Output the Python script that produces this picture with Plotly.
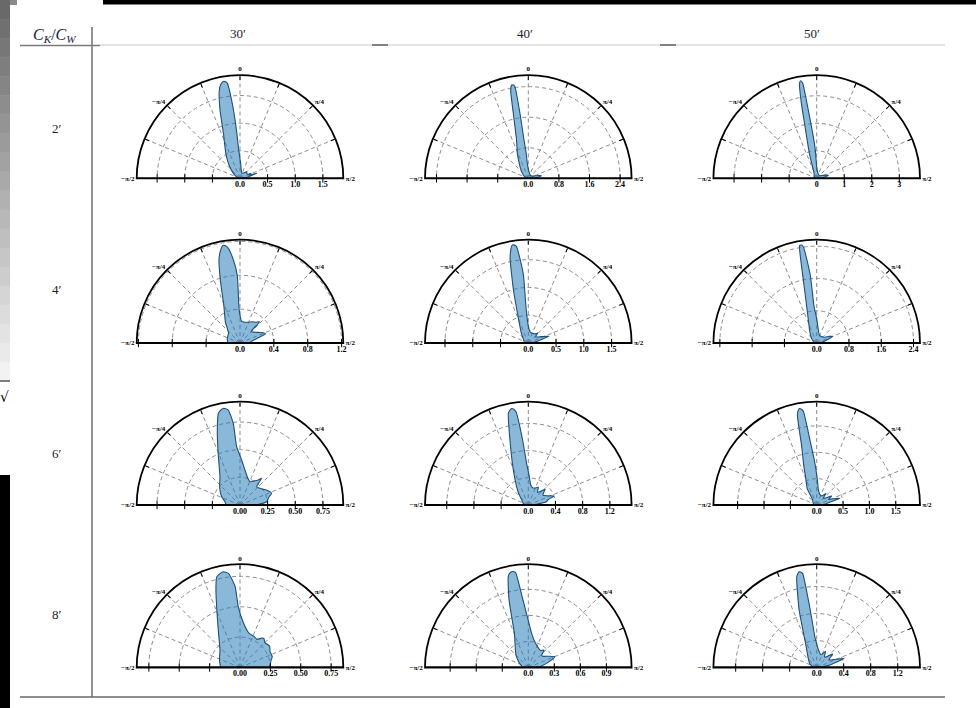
import plotly.graph_objects as go

W, H = 976, 708

# ---------------- data ----------------
COL_LABELS = ["30′", "40′", "50′"]
ROW_LABELS = ["2′", "4′", "6′", "8′"]
ANGLE_TICKS = [-90, -67.5, -45, -22.5, 0, 22.5, 45, 67.5, 90]
ANGLE_TEXT = ["−π/2", "", "−π/4", "", "0", "", "π/4", "", "π/2"]

# row 2'
THETA_30_2 = [-90, -70, -53, -40, -31.6, -25, -20.3, -16.3, -13.2, -11.5, -9.8, -8.5, -7.6, -6.1, -4.4, -3, 0, 2.5, 10, 20, 35, 45, 60, 66, 70, 73, 76, 80, 85, 90]
R_30_2 = [0.02, 0.05, 0.15, 0.30, 0.47, 0.65, 0.86, 1.29, 1.64, 1.74, 1.78, 1.77, 1.74, 1.42, 0.94, 0.58, 0.35, 0.27, 0.14, 0.10, 0.12, 0.17, 0.15, 0.22, 0.17, 0.32, 0.20, 0.15, 0.08, 0.03]
THETA_40_2 = [-90, -70, -56, -40, -31, -24, -17, -13, -11.3, -10.1, -9, -8.3, -7.3, -6.4, -5, -3.8, 0, 10, 18, 30, 45, 60, 70, 75, 78, 82, 86, 90]
R_40_2 = [0.03, 0.08, 0.16, 0.30, 0.46, 0.70, 1.05, 1.74, 2.35, 2.48, 2.47, 2.42, 1.71, 1.00, 0.70, 0.39, 0.25, 0.15, 0.13, 0.10, 0.10, 0.12, 0.20, 0.30, 0.35, 0.30, 0.20, 0.05]
THETA_50_2 = [-90, -60, -28, -16.3, -12.7, -11.5, -10.3, -9.3, -8.4, -7, -5.1, -3, 0, 10, 30, 50, 65, 74, 80, 90]
R_50_2 = [0.04, 0.10, 0.20, 0.95, 1.92, 2.80, 3.50, 3.59, 3.49, 2.50, 1.64, 1.10, 0.42, 0.22, 0.15, 0.15, 0.26, 0.44, 0.30, 0.07]

# row 4'
THETA_30_4 = [-90, -80, -70, -49, -35, -23.4, -17.2, -13.9, -11.5, -10, -8.5, -7.1, -4.5, -2.3, -1.5, 4, 20, 30, 38, 42.7, 44, 50, 60, 66, 70, 77, 85, 90]
R_30_4 = [0.15, 0.15, 0.16, 0.18, 0.30, 0.48, 0.79, 1.03, 1.13, 1.17, 1.16, 1.13, 0.98, 0.80, 0.40, 0.26, 0.26, 0.29, 0.31, 0.34, 0.19, 0.20, 0.25, 0.30, 0.32, 0.18, 0.12, 0.10]
THETA_40_4 = [-90, -70, -47, -35, -24, -16, -12.2, -10.5, -9.3, -8, -7, -5.5, -4.1, -3.6, 0, 10, 20, 35, 43.8, 50, 60, 71.6, 80, 90]
R_40_4 = [0.06, 0.08, 0.13, 0.22, 0.40, 0.95, 1.55, 1.72, 1.79, 1.78, 1.75, 1.50, 1.22, 0.61, 0.31, 0.20, 0.19, 0.20, 0.25, 0.17, 0.22, 0.39, 0.15, 0.05]
THETA_50_4 = [-90, -70, -47, -30, -21.6, -13.1, -10.8, -10, -9, -7.9, -5.4, -4.2, 0, 3.7, 20, 40, 55, 62, 67, 72, 80, 90]
R_50_4 = [0.05, 0.08, 0.18, 0.35, 0.54, 1.29, 2.13, 2.45, 2.46, 2.41, 1.68, 0.92, 0.60, 0.42, 0.20, 0.20, 0.25, 0.35, 0.43, 0.30, 0.15, 0.05]

# row 6'
THETA_30_6 = [-90, -77.5, -65.6, -50, -35.2, -24.1, -17.6, -13.3, -11.5, -9.8, -8.5, -7, -4.7, -3.3, 2.1, 8.1, 15, 23.2, 30, 36, 39, 42, 48, 55, 62, 66, 69.8, 75, 83, 90]
R_30_6 = [0.126, 0.139, 0.182, 0.24, 0.314, 0.478, 0.679, 0.85, 0.875, 0.886, 0.88, 0.865, 0.741, 0.528, 0.407, 0.319, 0.26, 0.23, 0.25, 0.28, 0.311, 0.224, 0.23, 0.25, 0.28, 0.297, 0.305, 0.27, 0.243, 0.15]
THETA_40_6 = [-90, -70, -53, -40, -32.5, -23.2, -15.8, -12.3, -11, -9.8, -8.5, -7.5, -5, -2.3, 2, 6.7, 15, 22, 29.5, 36, 41, 46.8, 52, 56, 63, 70.7, 75, 80, 85, 90]
R_40_6 = [0.05, 0.08, 0.12, 0.22, 0.32, 0.56, 0.99, 1.38, 1.42, 1.44, 1.42, 1.38, 0.96, 0.61, 0.42, 0.30, 0.26, 0.27, 0.30, 0.23, 0.26, 0.34, 0.28, 0.26, 0.30, 0.40, 0.30, 0.27, 0.12, 0.05]
THETA_50_6 = [-90, -60, -39, -30, -23, -18, -14.4, -12.1, -11, -10.2, -9, -8.1, -5.6, -3, -1.1, 2, 6.3, 20, 30, 38.7, 44, 50, 59, 65, 70, 74, 78, 84, 90]
R_50_6 = [0.04, 0.08, 0.12, 0.36, 0.52, 0.80, 1.14, 1.75, 1.83, 1.86, 1.84, 1.79, 1.18, 0.85, 0.66, 0.45, 0.29, 0.20, 0.20, 0.28, 0.18, 0.20, 0.33, 0.25, 0.35, 0.46, 0.25, 0.15, 0.06]

# row 8'
THETA_30_8 = [-90, -69.6, -48.5, -32.3, -24, -17.2, -14.4, -12, -9.8, -7, -3.5, -1.6, 4.3, 15.2, 25, 31, 36.4, 39.3, 45, 54.4, 62, 71.4, 78, 85, 90]
R_30_8 = [0.16, 0.18, 0.22, 0.33, 0.46, 0.67, 0.77, 0.79, 0.80, 0.78, 0.67, 0.50, 0.37, 0.29, 0.28, 0.27, 0.30, 0.31, 0.29, 0.30, 0.28, 0.28, 0.26, 0.25, 0.24]
THETA_40_8 = [-90, -65, -45, -35, -22.4, -15.9, -12.5, -11, -9.4, -8, -7.4, -4.5, 0, 5.9, 15, 25, 35, 42.3, 47, 52, 60, 67.9, 75, 85, 90]
R_40_8 = [0.06, 0.11, 0.20, 0.26, 0.42, 0.81, 1.07, 1.11, 1.12, 1.11, 1.09, 0.78, 0.54, 0.39, 0.30, 0.26, 0.24, 0.27, 0.21, 0.21, 0.26, 0.33, 0.24, 0.14, 0.06]
THETA_50_8 = [-90, -60, -40, -27, -17, -12.5, -11.3, -10.3, -9.3, -8.5, -6.6, -3.3, 0, 5.8, 18, 29, 35, 40, 50, 58, 65, 71.8, 80, 90]
R_50_8 = [0.05, 0.12, 0.20, 0.34, 0.89, 1.37, 1.42, 1.44, 1.43, 1.41, 0.90, 0.45, 0.35, 0.26, 0.20, 0.27, 0.20, 0.20, 0.31, 0.21, 0.28, 0.43, 0.18, 0.05]

PANEL_THETA = [[THETA_30_2, THETA_40_2, THETA_50_2],
               [THETA_30_4, THETA_40_4, THETA_50_4],
               [THETA_30_6, THETA_40_6, THETA_50_6],
               [THETA_30_8, THETA_40_8, THETA_50_8]]
PANEL_R = [[R_30_2, R_40_2, R_50_2],
           [R_30_4, R_40_4, R_50_4],
           [R_30_6, R_40_6, R_50_6],
           [R_30_8, R_40_8, R_50_8]]

R_MAX = [[1.87, 2.70, 3.75],
         [1.22, 1.86, 2.56],
         [0.934, 1.52, 1.96],
         [0.85, 1.19, 1.53]]
R_TICKS = [[[0, 0.5, 1.0, 1.5], [0, 0.8, 1.6, 2.4], [0, 1, 2, 3]],
           [[0, 0.4, 0.8, 1.2], [0, 0.5, 1.0, 1.5], [0, 0.8, 1.6, 2.4]],
           [[0, 0.25, 0.5, 0.75], [0, 0.4, 0.8, 1.2], [0, 0.5, 1.0, 1.5]],
           [[0, 0.25, 0.5, 0.75], [0, 0.3, 0.6, 0.9], [0, 0.4, 0.8, 1.2]]]
R_FORMAT = [[".1f", ".1f", ".0f"],
            [".1f", ".1f", ".1f"],
            [".2f", ".1f", ".1f"],
            [".2f", ".1f", ".1f"]]

# ---------------- layout geometry (pixels) ----------------
COL_X = [240.0, 528.3, 816.7]
ROW_BASE = [178.4, 343.0, 505.0, 667.5]
RADIUS = 103.3
ROW_LABEL_Y = [128, 290, 453, 614]
COL_LABEL_X = [238, 525, 812]


def px(x):
    return x / W


def py(y):
    return 1 - y / H


SERIF = "Liberation Serif"
GRID = "#8c8c8c"

fig = go.Figure()
polars = {}
k = 0
for i in range(4):
    for j in range(3):
        k += 1
        name = "polar" if k == 1 else f"polar{k}"
        cx, cy = COL_X[j], ROW_BASE[i]
        rmax = R_MAX[i][j]
        ticks = R_TICKS[i][j]
        polars[name] = dict(
            domain=dict(x=[px(cx - RADIUS), px(cx + RADIUS)], y=[py(cy), py(cy - RADIUS)]),
            sector=[0, 180],
            bgcolor="rgba(0,0,0,0)",
            angularaxis=dict(
                rotation=90, direction="clockwise", thetaunit="degrees",
                tickmode="array", tickvals=ANGLE_TICKS, ticktext=ANGLE_TEXT,
                ticks="inside", ticklen=4, tickwidth=1.2, tickcolor="black",
                showline=True, linecolor="black", linewidth=1.8,
                showgrid=True, gridcolor=GRID, gridwidth=1.2, griddash="4px,3px",
                tickfont=dict(family=SERIF, size=7, color="black", weight="bold"),
            ),
            radialaxis=dict(
                range=[0, rmax], angle=0, side="clockwise",
                tickmode="array", tickvals=ticks, tickformat=R_FORMAT[i][j],
                ticks="", showline=False,
                showgrid=True, gridcolor=GRID, gridwidth=1.2, griddash="4px,3px",
                tickfont=dict(family=SERIF, size=8, color="black", weight="bold"),
                tickangle=0,
            ),
        )
        fig.add_trace(go.Scatterpolar(
            r=PANEL_R[i][j], theta=PANEL_THETA[i][j], mode="lines", fill="toself",
            fillcolor="rgba(31,119,180,0.52)",
            line=dict(color="#1d4f7c", width=1.1, shape="spline", smoothing=0.5),
            subplot=name, hoverinfo="skip", showlegend=False))
        # baseline (diameter of the half disc)
        fig.add_trace(go.Scatterpolar(
            r=[rmax, 0, rmax], theta=[-90, -90, 90], mode="lines",
            line=dict(color="black", width=2), cliponaxis=False,
            subplot=name, hoverinfo="skip", showlegend=False))
        tr = [t for t in ticks if t > 0]
        fig.add_trace(go.Scatterpolar(
            r=tr + tr, theta=[-90] * len(tr) + [90] * len(tr), mode="markers",
            marker=dict(symbol="line-ns", size=6, color="black", line=dict(color="black", width=1)),
            cliponaxis=False, subplot=name, hoverinfo="skip", showlegend=False))

shapes = []


def line(x0, y0, x1, y1, color, width):
    shapes.append(dict(type="line", xref="paper", yref="paper",
                       x0=px(x0), y0=py(y0), x1=px(x1), y1=py(y1),
                       line=dict(color=color, width=width), layer="above"))


def rect(x0, y0, x1, y1, color):
    shapes.append(dict(type="rect", xref="paper", yref="paper",
                       x0=px(x0), y0=py(y0), x1=px(x1), y1=py(y1),
                       fillcolor=color, line=dict(width=0), layer="above"))


# table rules
line(20, 45.5, 100, 45.5, "#7a7a7a", 1.6)
line(100, 45, 945, 45, "#c8c8c8", 1)
line(372, 45, 388, 45, "#555555", 1.4)
line(660, 45, 676, 45, "#555555", 1.4)
line(92, 27, 92, 697, "#7a7a7a", 1.6)
line(20, 697, 945, 697, "#6a6a6a", 1.5)

# screenshot edge artifacts
n = 20
for s in range(n):
    g = int(105 + (242 - 105) * s / (n - 1))
    rect(0, 381 * s / n, 10, 381 * (s + 1) / n + 0.5, f"rgb({g},{g},{g})")
line(0, 381, 10, 381, "#555555", 1.5)
rect(0, 475, 10, 708, "black")
rect(103, 0, 976, 4.5, "black")
rect(10, 0, 17, 5, "#8a8a8a")


def note(text, x, y, size, color, family=SERIF):
    return dict(text=text, x=px(x), y=py(y), xref="paper", yref="paper", showarrow=False,
                xanchor="center", yanchor="middle", font=dict(family=family, size=size, color=color))


annotations = [
    note("<i>C</i><sub><i>K</i></sub>/<i>C</i><sub><i>W</i></sub>", 55, 36, 16, "#1c1c3c"),
    note("√", 4, 397, 14, "black", "DejaVu Sans"),
]
for j, lab in enumerate(COL_LABELS):
    annotations.append(note(lab, COL_LABEL_X[j], 34, 13, "#222"))
for i, lab in enumerate(ROW_LABELS):
    annotations.append(note(lab, 57, ROW_LABEL_Y[i], 13, "#222"))

fig.update_layout(
    width=W, height=H, margin=dict(l=0, r=0, t=0, b=0),
    paper_bgcolor="white", plot_bgcolor="white", showlegend=False,
    shapes=shapes, annotations=annotations, **polars)

fig.write_html("out.html", config={"displayModeBar": False},
               post_script="document.body.style.margin='0';document.body.style.overflow='hidden';")
